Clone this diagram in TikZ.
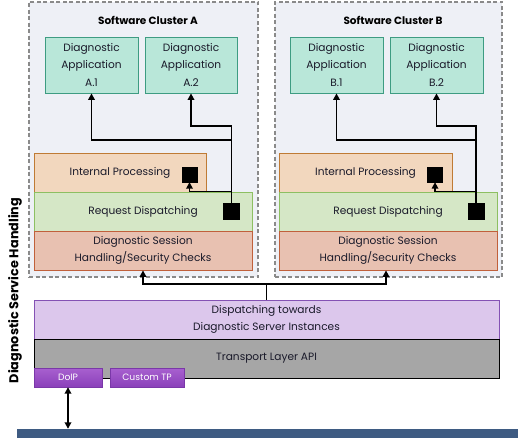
\documentclass[tikz,border=0pt]{standalone}
\usepackage{fontspec}
\setmainfont{Poppins}
\usetikzlibrary{arrows.meta,calc,shadows}
\definecolor{clbg}{HTML}{EEF0F6}
\definecolor{clbd}{HTML}{8A8A8A}
\definecolor{appf}{HTML}{B9E7D9}
\definecolor{appd}{HTML}{3E9C82}
\definecolor{intf}{HTML}{F2D7BE}
\definecolor{intd}{HTML}{BF7B35}
\definecolor{reqf}{HTML}{D5E7C6}
\definecolor{reqd}{HTML}{8DBF62}
\definecolor{sesf}{HTML}{E8C1B1}
\definecolor{sesd}{HTML}{C0603B}
\definecolor{dspf}{HTML}{DCC7EC}
\definecolor{dspd}{HTML}{8452B4}
\definecolor{trf}{HTML}{A6A6A6}
\definecolor{tpa}{HTML}{A860CF}
\definecolor{tpb}{HTML}{8A40BA}
\definecolor{tpd}{HTML}{7A38A8}
\definecolor{busc}{HTML}{3E5B82}
\definecolor{txt}{HTML}{1A1A2A}
\tikzset{
  cluster/.style={draw=clbd, fill=clbg, dashed, dash pattern=on 4pt off 2.5pt, line width=1.4pt},
  ttl/.style={font=\fontsize{10.5}{12}\selectfont\bfseries},
  app/.style={draw=appd, fill=appf, line width=0.8pt, minimum height=56pt, align=center, text=txt, font=\fontsize{10.6}{17.5}\selectfont},
  layer/.style={line width=0.8pt, minimum height=39pt, align=center, text=txt, font=\fontsize{10.6}{17}\selectfont},
  sq/.style={fill=black, draw=black, minimum width=15pt, minimum height=15pt, inner sep=0pt},
  arr/.style={line width=1.7pt, -{Triangle[length=6.5pt,width=6.5pt]}},
  tp/.style={draw=tpd, top color=tpa, bottom color=tpb, text=white, minimum height=19pt, inner sep=0pt, font=\fontsize{9.2}{10}\selectfont, drop shadow={shadow xshift=1pt, shadow yshift=-1pt, opacity=0.3}},
}
\begin{document}
\begin{tikzpicture}[x=1pt,y=-1pt]
\useasboundingbox (0,0) rectangle (518,438);
% clusters
\node[cluster, minimum width=229pt, minimum height=275pt] (clA) at (143.5,139.5) {};
\node[cluster, minimum width=227pt, minimum height=275pt] (clB) at (388.5,139.5) {};
\node[ttl] (tA) at (148,20) {Software Cluster A};
\node[ttl] (tB) at (393,20) {Software Cluster B};
% apps
\node[app, minimum width=93pt] (a1) at (91.5,65) {Diagnostic\\Application\\A.1};
\node[app, minimum width=92pt] (a2) at (191,65) {Diagnostic\\Application\\A.2};
\node[app, minimum width=93pt] (b1) at (336.5,65) {Diagnostic\\Application\\B.1};
\node[app, minimum width=93pt] (b2) at (436.5,65) {Diagnostic\\Application\\B.2};
% layers A
\node[layer, draw=intd, fill=intf, minimum width=172pt] (intA) at (120,172.5) {Internal Processing};
\node[layer, draw=reqd, fill=reqf, minimum width=218pt] (reqA) at (143,211.5) {Request Dispatching};
\node[layer, draw=sesd, fill=sesf, minimum width=218pt] (sesA) at (143,250.5) {Diagnostic Session\\Handling/Security Checks};
% layers B
\node[layer, draw=intd, fill=intf, minimum width=173pt] (intB) at (365.5,172.5) {Internal Processing};
\node[layer, draw=reqd, fill=reqf, minimum width=218pt] (reqB) at (388,211.5) {Request Dispatching};
\node[layer, draw=sesd, fill=sesf, minimum width=218pt] (sesB) at (388,250.5) {Diagnostic Session\\Handling/Security Checks};
% squares
\node[sq] (sqIA) at (189.5,174.5) {};
\node[sq, minimum width=16pt, minimum height=16pt] (sqRA) at (231.5,211.5) {};
\node[sq] (sqIB) at (435,174.5) {};
\node[sq, minimum width=16pt, minimum height=16pt] (sqRB) at (476,211.5) {};
% arrows A
\draw[arr] (sqRA.north) -- ++(0,-77.5) -| (a2.south);
\draw[arr] (sqRA.north) -- ++(0,-63) -| (a1.south);
\draw[arr] (sqRA.north |- reqA.north) -| (sqIA.south);
% arrows B
\draw[arr] (sqRB.north) -- ++(0,-77.5) -| (b2.south);
\draw[arr] (sqRB.north) -- ++(0,-63) -| (b1.south);
\draw[arr] (sqRB.north |- reqB.north) -| (sqIB.south);
% lower layers
\node[layer, draw=dspd, fill=dspf, minimum width=465pt] (disp) at (266.5,319.5) {Dispatching towards\\Diagnostic Server Instances};
\node[layer, draw=black, fill=trf, minimum width=465pt] (trans) at (266.5,358.5) {Transport Layer API};
\coordinate (jn) at (266.5,284);
\draw[line width=1.7pt] (disp.north) -- (jn);
\draw[arr] (jn) -| (sesA.south);
\draw[arr] (jn) -| ([xshift=-2pt]sesB.south);
\node[tp, minimum width=68pt] (doip) at (68,377.5) {DoIP};
\node[tp, minimum width=74pt] (ctp) at (147,377.5) {Custom TP};
\fill[busc] (17,429) rectangle (518,438);
\node[inner sep=0pt, minimum width=501pt, minimum height=9pt] (bus) at (267.5,433.5) {};
\draw[line width=1.7pt, {Triangle[length=6.5pt,width=6.5pt]}-{Triangle[length=6.5pt,width=6.5pt]}] (doip.south) -- (doip.south |- bus.north);
\node[rotate=90, font=\fontsize{12.8}{14}\selectfont\bfseries] (side) at (15,290.5) {Diagnostic Service Handling};
\end{tikzpicture}
\end{document}
